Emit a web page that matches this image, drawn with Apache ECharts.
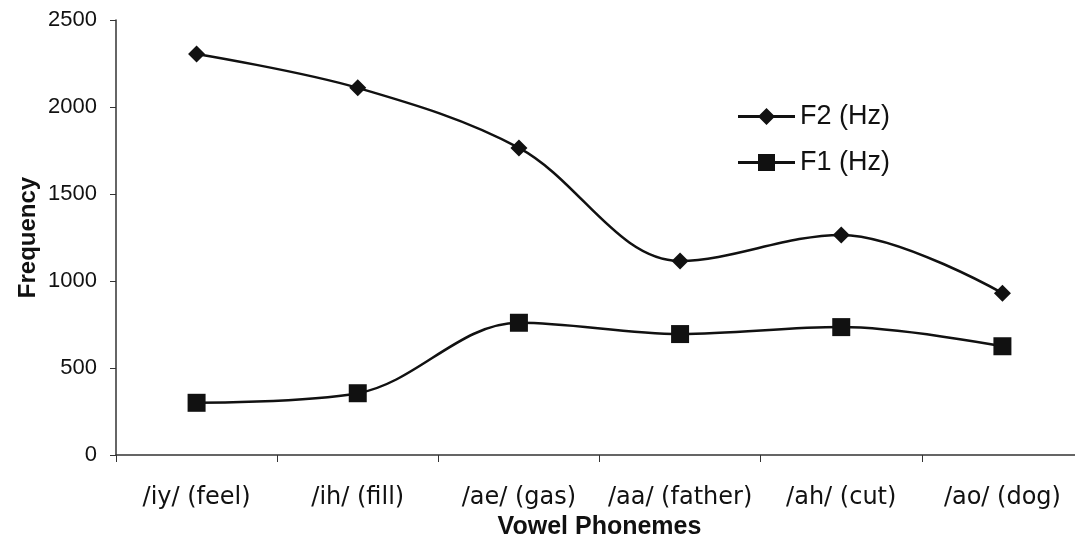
<!DOCTYPE html>
<html><head><meta charset="utf-8">
<script src="https://cdn.jsdelivr.net/npm/echarts@6/dist/echarts.min.js"></script>
<style>html,body{margin:0;padding:0;background:#fff}#c{width:1075px;height:537px}</style>
</head><body><div id="c"></div>
<script>
const categories = ['/iy/ (feel)', '/ih/ (fill)', '/ae/ (gas)', '/aa/ (father)', '/ah/ (cut)', '/ao/ (dog)'];
const f2Values = [2305, 2110, 1765, 1115, 1265, 930];
const f1Values = [300, 355, 760, 695, 735, 625];
const yTicks = [0, 500, 1000, 1500, 2000, 2500];

const chart = echarts.init(document.getElementById('c'));
const axisFont = 'Liberation Sans, Arial, sans-serif';
chart.setOption({
  backgroundColor: '#fff',
  animation: false,
  grid: { left: 116, top: 20, right: -8, bottom: 82, containLabel: false, outerBoundsMode: 'none' },
  legend: {
    left: 733, top: 98, orient: 'vertical', itemGap: 19,
    itemWidth: 57, itemHeight: 17,
    textStyle: { fontFamily: axisFont, fontSize: 27, color: '#111' },
    data: [
      { name: 'F2 (Hz)', icon: 'path://M0,7L57,7L57,10L0,10Z M20,8.5L28.5,0L37,8.5L28.5,17Z' },
      { name: 'F1 (Hz)', icon: 'path://M0,7L57,7L57,10L0,10Z M20,0L37,0L37,17L20,17Z' }
    ]
  },
  xAxis: {
    type: 'category', data: categories, boundaryGap: true,
    name: 'Vowel Phonemes', nameLocation: 'middle', nameGap: 54,
    nameTextStyle: { fontFamily: axisFont, fontSize: 25, fontWeight: 'bold', color: '#111' },
    axisLine: { lineStyle: { color: '#333', width: 1.5 } },
    axisTick: { show: true, length: 7, interval: 0, alignWithLabel: false, lineStyle: { color: '#333' } },
    axisLabel: { interval: 0, margin: 31, fontFamily: 'DejaVu Sans, Tahoma, sans-serif', fontSize: 24, color: '#111' }
  },
  yAxis: {
    type: 'value', min: yTicks[0], max: yTicks[yTicks.length - 1], interval: 500,
    name: 'Frequency', nameLocation: 'middle', nameGap: 76, nameRotate: 90, nameMoveOverlap: false,
    nameTextStyle: { fontFamily: axisFont, fontSize: 24, fontWeight: 'bold', color: '#111' },
    axisLine: { show: true, lineStyle: { color: '#333', width: 1.5 } },
    axisTick: { show: true, length: 6, lineStyle: { color: '#333' } },
    splitLine: { show: false },
    axisLabel: { margin: 19, fontFamily: axisFont, fontSize: 22, color: '#111', formatter: v => String(v) }
  },
  series: [
    { name: 'F2 (Hz)', type: 'line', data: f2Values, smooth: 0.35,
      symbol: 'diamond', symbolSize: 17,
      lineStyle: { color: '#111', width: 2.5 }, itemStyle: { color: '#111' } },
    { name: 'F1 (Hz)', type: 'line', data: f1Values, smooth: 0.35,
      symbol: 'rect', symbolSize: 18,
      lineStyle: { color: '#111', width: 2.5 }, itemStyle: { color: '#111' } }
  ]
});
</script></body></html>
